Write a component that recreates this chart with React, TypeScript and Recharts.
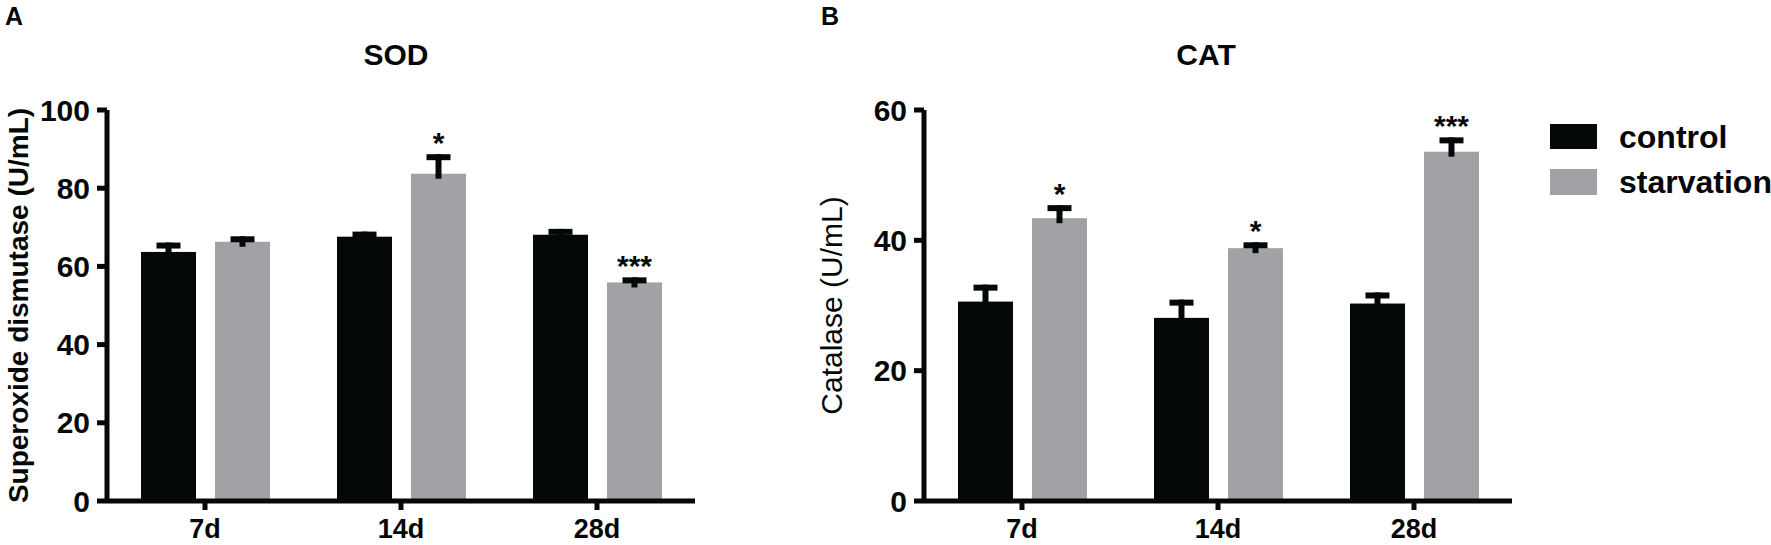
import React from 'react';
import { BarChart, Bar, XAxis, YAxis } from 'recharts';

const days = ['7d', '14d', '28d'];

const sodControl = [63.7, 67.6, 68.1];
const sodControlErr = [2.4, 1.3, 1.5];
const sodStarvation = [66.3, 83.7, 55.9];
const sodStarvationErr = [1.4, 5.0, 1.3];
const sodSig = ['', '*', '***'];

const catControl = [30.6, 28.1, 30.3];
const catControlErr = [2.6, 2.8, 1.7];
const catStarvation = [43.4, 38.8, 53.6];
const catStarvationErr = [2.0, 0.9, 2.2];
const catSig = ['*', '*', '***'];

const sodTicks = [0, 20, 40, 60, 80, 100];
const catTicks = [0, 20, 40, 60];

const BLACK = '#050808';
const GREY = '#a2a1a6';
const SANS = '"Liberation Sans", Arial, sans-serif';
const NARROW = '"Liberation Sans Narrow", "Liberation Sans", Arial, sans-serif';

const sodData = days.map((d, i) => ({
  day: d,
  control: sodControl[i],
  controlErr: sodControlErr[i],
  starvation: sodStarvation[i],
  starvationErr: sodStarvationErr[i],
  starvationSig: sodSig[i],
}));

const catData = days.map((d, i) => ({
  day: d,
  control: catControl[i],
  controlErr: catControlErr[i],
  starvation: catStarvation[i],
  starvationErr: catStarvationErr[i],
  starvationSig: catSig[i],
}));

// bar + upper-only error bar + significance stars
const makeShape = (key: string) => (props: any) => {
  const { x, y, width, height, fill, payload } = props;
  const v = payload[key];
  const e = payload[key + 'Err'];
  const sig = payload[key + 'Sig'];
  const ppu = v ? height / v : 0;
  const top = y - e * ppu;
  const cx = x + width / 2;
  return (
    <g>
      <rect x={x} y={y} width={width} height={height} fill={fill} />
      <line x1={cx} x2={cx} y1={y + 5} y2={top} stroke={BLACK} strokeWidth={6} />
      <line x1={cx - 12} x2={cx + 12} y1={top + 3} y2={top + 3} stroke={BLACK} strokeWidth={6} />
      {sig ? (
        <text x={cx} y={top - 1} textAnchor="middle" fontFamily={SANS} fontWeight={700} fontSize={30} fill={BLACK}>
          {sig}
        </text>
      ) : null}
    </g>
  );
};

const axisLine = { stroke: BLACK, strokeWidth: 5 };
const yTick = { fill: BLACK, fontSize: 30, fontWeight: 700, fontFamily: NARROW };
const xTick = { fill: BLACK, fontSize: 27, fontWeight: 700, fontFamily: SANS };

const yLabel = (text: string, x: number, bold: boolean) => (props: any) => {
  const vb = props.viewBox || {};
  const cy = vb.y + vb.height / 2;
  return (
    <text
      x={x}
      y={cy}
      transform={`rotate(-90, ${x}, ${cy})`}
      textAnchor="middle"
      fontFamily={SANS}
      fontWeight={bold ? 700 : 400}
      fontSize={bold ? 28 : 30}
      fill={BLACK}
    >
      {text}
    </text>
  );
};

const Panel = ({ data, ticks, max, yW, width, right, label, labelX, bold }: any) => (
  <BarChart
    width={width}
    height={545}
    data={data}
    margin={{ top: 110, right, bottom: 0, left: 0 }}
    barSize={55}
    barGap={19}
  >
    <XAxis
      dataKey="day"
      height={44}
      axisLine={axisLine}
      tickLine={axisLine}
      tickSize={9}
      tickMargin={9}
      tick={xTick}
    />
    <YAxis
      width={yW}
      domain={[0, max]}
      ticks={ticks}
      interval={0}
      axisLine={axisLine}
      tickLine={axisLine}
      tickSize={10}
      tickMargin={7}
      tick={yTick}
      label={yLabel(label, labelX, bold)}
    />
    <Bar dataKey="control" fill={BLACK} isAnimationActive={false} shape={makeShape('control')} />
    <Bar dataKey="starvation" fill={GREY} isAnimationActive={false} shape={makeShape('starvation')} />
  </BarChart>
);

export default function App() {
  return (
    <div style={{ position: 'absolute', left: 0, top: 0, width: 1771, height: 545, background: '#fff' }}>
      <div style={{ position: 'absolute', left: 0, top: 0 }}>
        <Panel data={sodData} ticks={sodTicks} max={100} yW={107} width={720} right={25}
          label="Superoxide dismutase (U/mL)" labelX={28} bold />
      </div>
      <div style={{ position: 'absolute', left: 720, top: 0 }}>
        <Panel data={catData} ticks={catTicks} max={60} yW={204} width={1051} right={259}
          label="Catalase (U/mL)" labelX={122} bold={false} />
      </div>
      <svg width={1771} height={545} style={{ position: 'absolute', left: 0, top: 0, pointerEvents: 'none' }}>
        <g fontFamily={SANS} fontWeight={700} fill={BLACK}>
          <text x={5} y={25} fontSize={25}>A</text>
          <text x={821} y={25} fontSize={25}>B</text>
          <text x={396} y={65} fontSize={30} textAnchor="middle">SOD</text>
          <text x={1206} y={65} fontSize={30} textAnchor="middle">CAT</text>
          <rect x={1550} y={124} width={47} height={25} fill={BLACK} />
          <rect x={1550} y={169} width={47} height={26} fill={GREY} />
          <text x={1619} y={148} fontSize={32}>control</text>
          <text x={1619} y={193} fontSize={32}>starvation</text>
        </g>
      </svg>
    </div>
  );
}
